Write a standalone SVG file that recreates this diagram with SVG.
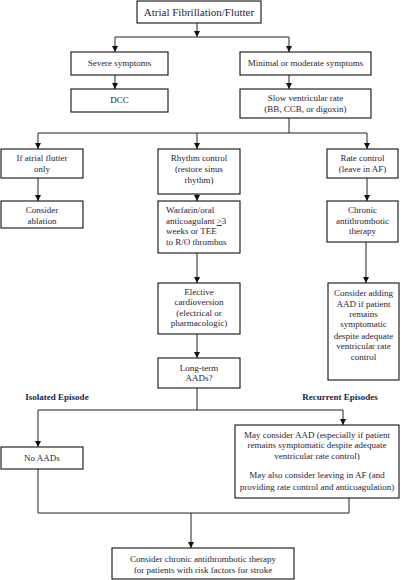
<svg xmlns="http://www.w3.org/2000/svg" width="410" height="580" viewBox="0 0 410 580">
<defs>
<style>
.box{fill:#fff;stroke:#111;stroke-width:1.1}
.t{font-family:"Liberation Serif","Times New Roman",serif;font-size:9px;fill:#1e1e3c;text-anchor:middle}
.tl{font-family:"Liberation Serif","Times New Roman",serif;font-size:9px;fill:#1e1e3c;text-anchor:start}
.title{font-family:"Liberation Serif","Times New Roman",serif;font-size:11px;fill:#1e1e3c;text-anchor:middle}
.b{font-family:"Liberation Serif","Times New Roman",serif;font-size:9px;font-weight:bold;fill:#1e1e3c;text-anchor:middle}
.c{fill:none;stroke:#222;stroke-width:1}
</style>
<marker id="ah" markerUnits="userSpaceOnUse" markerWidth="6" markerHeight="6" refX="6" refY="3" orient="auto">
<path d="M0,0 L6,3 L0,6 z" fill="#111"/>
</marker>
</defs>
<rect width="410" height="580" fill="#fff"/>
<g id="connectors">
<path class="c" d="M197,23 V37" marker-end="url(#ah)"/>
<path class="c" d="M115,37 H289"/>
<path class="c" d="M115,37 V52" marker-end="url(#ah)"/>
<path class="c" d="M289,37 V52" marker-end="url(#ah)"/>
<path class="c" d="M115,75 V89" marker-end="url(#ah)"/>
<path class="c" d="M289,75 V89" marker-end="url(#ah)"/>
<path class="c" d="M289,118 V133"/>
<path class="c" d="M38,133 H367"/>
<path class="c" d="M38,133 V149" marker-end="url(#ah)"/>
<path class="c" d="M197,133 V149" marker-end="url(#ah)"/>
<path class="c" d="M367,133 V149" marker-end="url(#ah)"/>
<path class="c" d="M38,178 V201" marker-end="url(#ah)"/>
<path class="c" d="M197,194 V201" marker-end="url(#ah)"/>
<path class="c" d="M367,178 V201" marker-end="url(#ah)"/>
<path class="c" d="M197,253 V283" marker-end="url(#ah)"/>
<path class="c" d="M366,242 V283" marker-end="url(#ah)"/>
<path class="c" d="M197,334 V358" marker-end="url(#ah)"/>
<path class="c" d="M197,388 V410"/>
<path class="c" d="M38,410 H343"/>
<path class="c" d="M38,410 V447" marker-end="url(#ah)"/>
<path class="c" d="M343,410 V425" marker-end="url(#ah)"/>
<path class="c" d="M38,469 V513 H349 V498"/>
<path class="c" d="M191,513 V548" marker-end="url(#ah)"/>
</g>
<g id="n-title">
<rect class="box" x="137" y="1" width="124" height="22"/>
<text class="title" x="199" y="16">Atrial Fibrillation/Flutter</text>
</g>
<g id="n-severe">
<rect class="box" x="71" y="52" width="97" height="23"/>
<text class="t" x="119.5" y="66">Severe symptoms</text>
</g>
<g id="n-minimal">
<rect class="box" x="240" y="52" width="131" height="23"/>
<text class="t" x="305.5" y="66">Minimal or moderate symptoms</text>
</g>
<g id="n-dcc">
<rect class="box" x="71" y="89" width="97" height="23"/>
<text class="t" x="119.5" y="103">DCC</text>
</g>
<g id="n-slow">
<rect class="box" x="240" y="89" width="131" height="29"/>
<text class="t" x="305.5" y="101">Slow ventricular rate</text>
<text class="t" x="305.5" y="112">(BB, CCB, or digoxin)</text>
</g>
<g id="n-flutter">
<rect class="box" x="1" y="149" width="82" height="29"/>
<text class="t" x="42" y="161">If atrial flutter</text>
<text class="t" x="42" y="172">only</text>
</g>
<g id="n-rhythm">
<rect class="box" x="158" y="149" width="82" height="45"/>
<text class="t" x="199" y="161">Rhythm control</text>
<text class="t" x="199" y="172">(restore sinus</text>
<text class="t" x="199" y="183">rhythm)</text>
</g>
<g id="n-rate">
<rect class="box" x="327" y="149" width="71" height="29"/>
<text class="t" x="362.5" y="161">Rate control</text>
<text class="t" x="362.5" y="172">(leave in AF)</text>
</g>
<g id="n-ablation">
<rect class="box" x="1" y="201" width="82" height="27"/>
<text class="t" x="42" y="213">Consider</text>
<text class="t" x="42" y="224">ablation</text>
</g>
<g id="n-warfarin">
<rect class="box" x="158" y="201" width="82" height="52"/>
<text class="tl" x="166" y="213">Warfarin/oral</text>
<text class="tl" x="166" y="224">anticoagulant <tspan text-decoration="underline">&gt;</tspan>3</text>
<text class="tl" x="166" y="234">weeks or TEE</text>
<text class="tl" x="166" y="245">to R/O thrombus</text>
</g>
<g id="n-chronic">
<rect class="box" x="327" y="201" width="71" height="41"/>
<text class="t" x="362.5" y="213">Chronic</text>
<text class="t" x="362.5" y="224">antithrombotic</text>
<text class="t" x="362.5" y="234">therapy</text>
</g>
<g id="n-elective">
<rect class="box" x="158" y="283" width="82" height="51"/>
<text class="t" x="199" y="295">Elective</text>
<text class="t" x="199" y="305">cardioversion</text>
<text class="t" x="199" y="316">(electrical or</text>
<text class="t" x="199" y="326">pharmacologic)</text>
</g>
<g id="n-adding">
<rect class="box" x="328" y="283" width="71" height="97"/>
<text class="t" x="363.5" y="296">Consider adding</text>
<text class="t" x="363.5" y="307">AAD if patient</text>
<text class="t" x="363.5" y="317">remains</text>
<text class="t" x="363.5" y="327">symptomatic</text>
<text class="t" x="363.5" y="339">despite adequate</text>
<text class="t" x="363.5" y="349">ventricular rate</text>
<text class="t" x="363.5" y="360">control</text>
</g>
<g id="n-longterm">
<rect class="box" x="158" y="358" width="82" height="30"/>
<text class="t" x="199" y="371">Long-term</text>
<text class="t" x="199" y="381">AADs?</text>
</g>
<g id="labels">
<text class="b" x="57" y="400">Isolated Episode</text>
<text class="b" x="340" y="400">Recurrent Episodes</text>
</g>
<g id="n-noaads">
<rect class="box" x="1" y="447" width="82" height="22"/>
<text class="t" x="42" y="461">No AADs</text>
</g>
<g id="n-mayconsider">
<rect class="box" x="235" y="425" width="164" height="73"/>
<text class="t" x="317" y="438">May consider AAD (especially if patient</text>
<text class="t" x="317" y="448">remains symptomatic despite adequate</text>
<text class="t" x="317" y="459">ventricular rate control)</text>
<text class="t" x="317" y="478">May also consider leaving in AF (and</text>
<text class="t" x="317" y="490">providing rate control and anticoagulation)</text>
</g>
<g id="n-bottom">
<rect class="box" x="112" y="548" width="182" height="31"/>
<text class="t" x="203" y="562">Consider chronic antithrombotic therapy</text>
<text class="t" x="203" y="573">for patients with risk factors for stroke</text>
</g>
</svg>
